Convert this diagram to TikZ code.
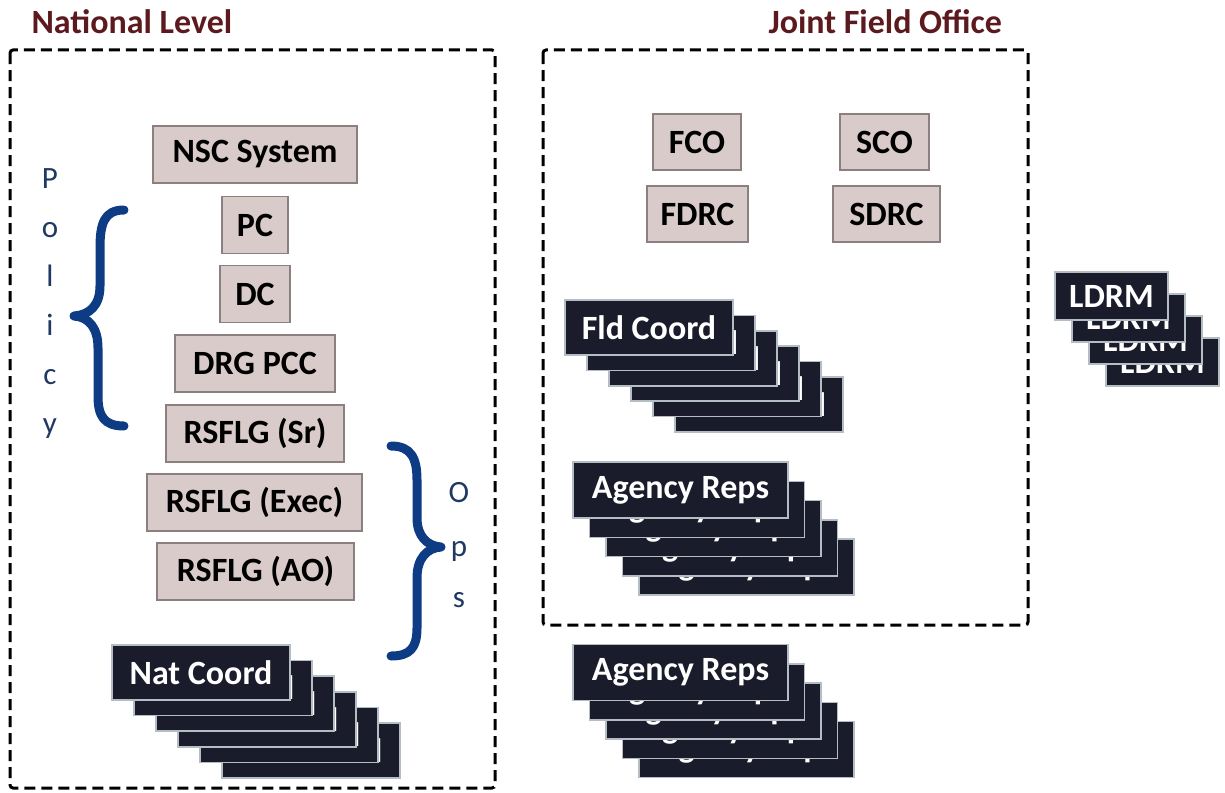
\documentclass[tikz,border=0pt]{standalone}
\usepackage{fontspec}
\setmainfont{Carlito}
\usetikzlibrary{positioning}
\definecolor{lvlred}{HTML}{5C1A1F}
\definecolor{braceblue}{HTML}{0D3C85}
\definecolor{letterblue}{HTML}{1F3864}
\definecolor{rolefill}{HTML}{D9CBCA}
\definecolor{roleedge}{HTML}{8C7F7F}
\definecolor{teamfill}{HTML}{1B1C2B}
\definecolor{teamedge}{HTML}{B4BCC4}

\begin{document}
\begin{tikzpicture}[x=1pt,y=-1pt,
    grpbox/.style={draw=black,line width=3pt,dash pattern=on 11pt off 6pt,rounded corners=3pt},
    role/.style={draw=roleedge,fill=rolefill,line width=1.2pt,inner sep=0pt,minimum height=57pt,
      font=\fontsize{34}{40}\selectfont\bfseries},
    team/.style={draw=teamedge,fill=teamfill,line width=1.5pt,inner sep=0pt,text=white,
      font=\fontsize{34}{40}\selectfont\bfseries},
    lvl/.style={anchor=base west,text=lvlred,font=\fontsize{34}{40}\selectfont\bfseries},
    vtext/.style={anchor=base,text=letterblue,font=\fontsize{31}{36}\selectfont},
    bracket/.style={draw=braceblue,line width=9pt,line cap=round,line join=round}]
    \useasboundingbox (0,0) rectangle (1225,792);

    \node[lvl] (natlvl) at (28,34) {National Level};
    \node[lvl] (jfolvl) at (765,34) {Joint Field Office};
    \draw[grpbox] (10,50) rectangle (495,788);
    \draw[grpbox] (543,50) rectangle (1028,625);

    \node[role,minimum width=204pt] (nsc) at (255,154.5) {NSC System};
    \node[role,minimum width=66pt] (pc) at (255,225) {PC};
    \node[role,minimum width=70pt] (dc) at (255,294) {DC};
    \node[role,minimum width=160pt] (drg) at (255,363.5) {DRG PCC};
    \node[role,minimum width=178pt] (sr) at (255,433.5) {RSFLG (Sr)};
    \node[role,minimum width=215pt] (exec) at (254.5,502.5) {RSFLG (Exec)};
    \node[role,minimum width=197pt] (ao) at (255.5,571.5) {RSFLG (AO)};

    \node[role,minimum width=88pt,minimum height=56pt] (fco) at (697,142) {FCO};
    \node[role,minimum width=89pt,minimum height=56pt] (sco) at (884.5,142) {SCO};
    \node[role,minimum width=101pt,minimum height=56pt] (fdrc) at (697.5,214) {FDRC};
    \node[role,minimum width=107pt,minimum height=56pt] (sdrc) at (886.5,214) {SDRC};

    \coordinate (poltop) at (124,210);
    \coordinate (polbot) at (124,426);
    \coordinate (opstop) at (391,446);
    \coordinate (opsbot) at (391,656);
    \draw[bracket] (poltop) .. controls (104,210) and (100,224) .. (100,248) -- (100,286)
      .. controls (100,306) and (89,315) .. (74,316) .. controls (89,317) and (98,328) .. (98,348)
      -- (98,396) .. controls (98,416) and (104,426) .. (polbot);
    \draw[bracket] (opstop) .. controls (411,446) and (417,458) .. (417,480) -- (417,518)
      .. controls (417,536) and (427,546) .. (441,547) .. controls (427,548) and (417,558) .. (417,578)
      -- (417,628) .. controls (417,648) and (410,656) .. (opsbot);
    \foreach \ch [count=\i from 0] in {P,o,l,i,c,y}
      \node[vtext] (pol\i) at (50,{188+49*\i}) {\ch};
    \node[vtext] (ops0) at (459,502) {O};
    \node[vtext] (ops1) at (459,556) {p};
    \node[vtext] (ops2) at (459,607) {s};

    \foreach \i in {5,4,...,0}
      \node[team,minimum width=178pt,minimum height=55pt] (nat\i) at ({201+22*\i},{672.5+15.6*\i}) {Nat Coord};
    \foreach \i in {5,4,...,0}
      \node[team,minimum width=168pt,minimum height=55pt] (fld\i) at ({649+22*\i},{327.5+15.4*\i}) {Fld Coord};
    \foreach \i in {4,3,...,0}
      \node[team,minimum width=215pt,minimum height=56pt] (rep\i) at ({680.5+16.5*\i},{490+19.3*\i}) {Agency Reps};
    \foreach \i in {4,3,...,0}
      \node[team,minimum width=215pt,minimum height=56pt] (xrep\i) at ({680.5+16.5*\i},{672.5+19.3*\i}) {Agency Reps};
    \foreach \i in {3,2,1,0}
      \node[team,minimum width=113pt,minimum height=48pt] (ldrm\i) at ({1111.5+17*\i},{296+22*\i}) {LDRM};
\end{tikzpicture}
\end{document}
